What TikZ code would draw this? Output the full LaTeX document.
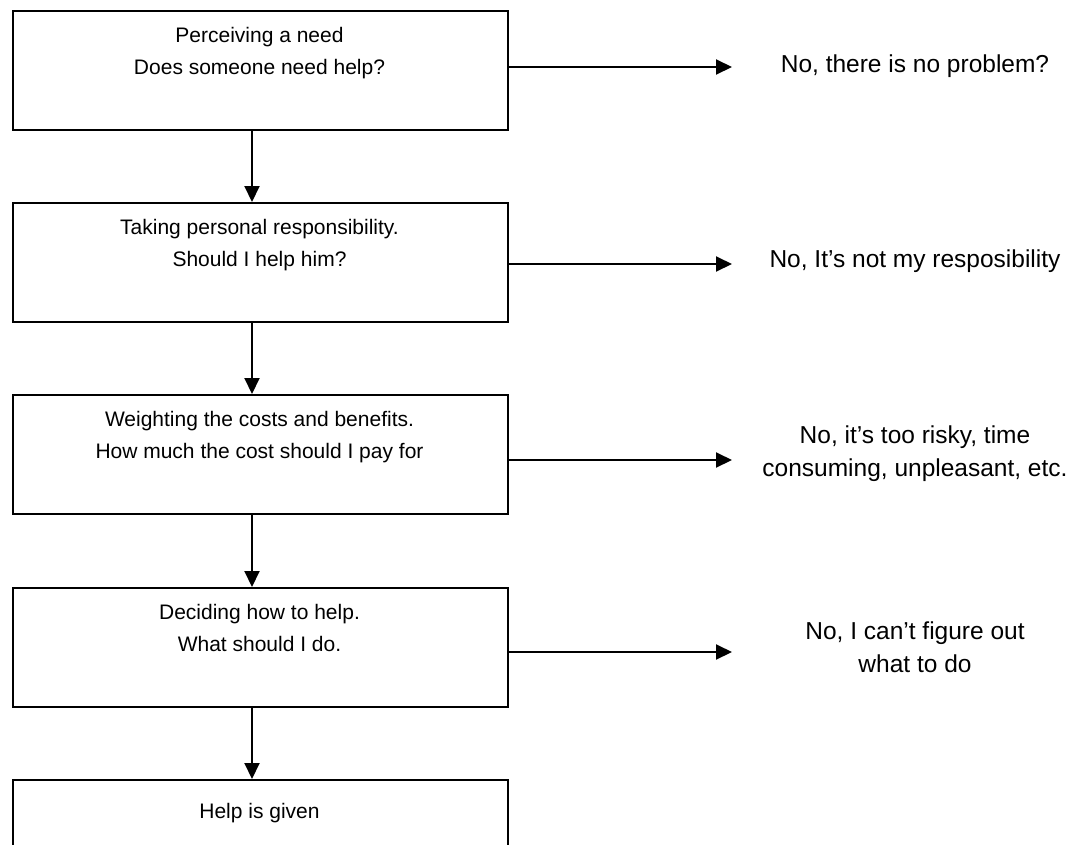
\documentclass[tikz,border=0pt]{standalone}
\usepackage{fontspec}
\setmainfont{Liberation Sans}
\usetikzlibrary{arrows.meta}
\begin{document}
\begin{tikzpicture}[x=1pt,y=-1pt,
  box/.style={draw, line width=2pt, minimum width=495pt, minimum height=119pt, anchor=north west, inner sep=0pt},
  btext/.style={anchor=north, inner sep=0pt, align=center, font=\fontsize{21}{32}\selectfont},
  rtext/.style={anchor=center, inner sep=0pt, align=center, font=\fontsize{24.5}{33}\selectfont},
  arr/.style={line width=2pt, -{Triangle[length=16pt,width=15pt]}}]
\useasboundingbox (0,0) rectangle (1069,844);
\clip (0,0) rectangle (1069,844);
\fill[white] (0,0) rectangle (1069,844);
\node[box] (b1) at (12,10) {};
\node[box] (b2) at (12,202) {};
\node[box] (b3) at (12,394) {};
\node[box] (b4) at (12,587) {};
\node[box] (b5) at (12,779) {};
\node[btext] (t1) at (259.5,27) {Perceiving a need\\Does someone need help?};
\node[btext] (t2) at (259.5,219) {Taking personal responsibility.\\Should I help him?};
\node[btext] (t3) at (259.5,411) {Weighting the costs and benefits.\\How much the cost should I pay for};
\node[btext] (t4) at (259.5,604) {Deciding how to help.\\What should I do.};
\node[btext] (t5) at (259.5,803) {Help is given};
\coordinate (xa) at (252,0);
\draw[arr] (b1.south -| xa) -- (b2.north -| xa);
\draw[arr] (b2.south -| xa) -- (b3.north -| xa);
\draw[arr] (b3.south -| xa) -- (b4.north -| xa);
\draw[arr] (b4.south -| xa) -- (b5.north -| xa);
\coordinate (e1) at (732,67);
\coordinate (e2) at (732,264);
\coordinate (e3) at (732,460);
\coordinate (e4) at (732,652);
\draw[arr] (b1.east |- e1) -- (e1);
\draw[arr] (b2.east |- e2) -- (e2);
\draw[arr] (b3.east |- e3) -- (e3);
\draw[arr] (b4.east |- e4) -- (e4);
\node[rtext] (r1) at (915,66) {No, there is no problem?};
\node[rtext] (r2) at (915,261) {No, It’s not my resposibility};
\node[rtext] (r3) at (915,454) {No, it’s too risky, time\\consuming, unpleasant, etc.};
\node[rtext] (r4) at (915,647) {No, I can’t figure out\\what to do};
\end{tikzpicture}
\end{document}
